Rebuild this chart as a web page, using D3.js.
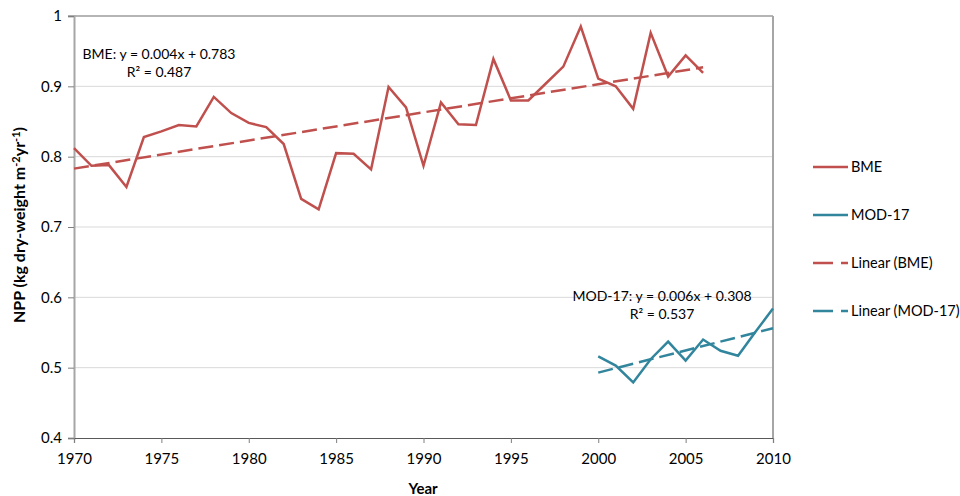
<!DOCTYPE html>
<html>
<head>
<meta charset="utf-8">
<script src="https://cdn.jsdelivr.net/npm/d3@7"></script>
<style>
  html, body { margin: 0; padding: 0; background: #fff; }
  svg { display: block; font-family: Lato, "Open Sans", sans-serif; }
</style>
</head>
<body>
<svg id="chart" width="960" height="496"></svg>
<script>
// ---- Data ----
const bmeYears = d3.range(1970, 2007);
const bmeValues = [0.812, 0.787, 0.788, 0.757, 0.828, 0.836, 0.845, 0.843, 0.885, 0.862,
  0.848, 0.842, 0.818, 0.740, 0.725, 0.805, 0.804, 0.782, 0.899, 0.870,
  0.787, 0.877, 0.846, 0.845, 0.939, 0.880, 0.880, 0.904, 0.928, 0.985,
  0.911, 0.900, 0.868, 0.976, 0.914, 0.944, 0.919];
const modYears = d3.range(2000, 2011);
const modValues = [0.516, 0.503, 0.479, 0.512, 0.537, 0.510, 0.540, 0.524, 0.517, 0.551, 0.584];
// trend line endpoints
const bmeTrendYears = [1970, 2006];
const bmeTrendValues = [0.783, 0.927];
const modTrendYears = [2000, 2010];
const modTrendValues = [0.493, 0.556];

const xTicks = [1970, 1975, 1980, 1985, 1990, 1995, 2000, 2005, 2010];
const yTicks = [0.4, 0.5, 0.6, 0.7, 0.8, 0.9, 1];
const legendLabels = ["BME", "MOD-17", "Linear (BME)", "Linear (MOD-17)"];
const bmeEquation = ["BME: y = 0.004x + 0.783", "R² = 0.487"];
const modEquation = ["MOD-17: y = 0.006x + 0.308", "R² = 0.537"];

const RED = "#C0504D", TEAL = "#31859C";
const TXT = "#000";

const svg = d3.select("#chart");
const L = 74, R = 773, T = 16, B = 438;
const x = d3.scaleLinear().domain([1970, 2010]).range([L, R]);
const y = d3.scaleLinear().domain([0.4, 1]).range([B, T]);

// gridlines
svg.append("g").selectAll("line").data(yTicks.filter(v => v > 0.4 && v < 1)).join("line")
  .attr("x1", L).attr("x2", R).attr("y1", d => y(d)).attr("y2", d => y(d))
  .attr("stroke", "#D9D9D9").attr("stroke-width", 1);

// frame: top & right
svg.append("line").attr("x1", L - 6).attr("x2", R).attr("y1", y(1)).attr("y2", y(1))
  .attr("stroke", "#6d6d6d").attr("stroke-width", 1.2);
svg.append("line").attr("x1", R).attr("x2", R).attr("y1", T).attr("y2", B)
  .attr("stroke", "#A6A6A6").attr("stroke-width", 2);

// y axis
const yAxis = svg.append("g").attr("transform", `translate(${L},0)`)
  .call(d3.axisLeft(y).tickValues(yTicks).tickFormat(d => d3.format("")(+d.toFixed(1))).tickSize(6).tickPadding(6));
yAxis.select(".domain").attr("stroke", "#A6A6A6").attr("stroke-width", 2);
yAxis.selectAll(".tick line").attr("stroke", "#7f7f7f");
yAxis.selectAll("text").attr("font-size", 15).attr("fill", TXT).attr("font-family", "Lato");

// x axis
const xAxis = svg.append("g").attr("transform", `translate(0,${B})`)
  .call(d3.axisBottom(x).tickValues(xTicks).tickFormat(d3.format("d")).tickSize(5).tickPadding(10));
xAxis.select(".domain").attr("stroke", "#595959").attr("stroke-width", 1.2);
xAxis.selectAll(".tick line").attr("stroke", "#7f7f7f");
xAxis.selectAll("text").attr("font-size", 15).attr("fill", TXT).attr("font-family", "Lato");

// axis titles
svg.append("text").attr("x", 423).attr("y", 494).attr("text-anchor", "middle")
  .attr("font-weight", "bold").attr("font-size", 15).attr("fill", TXT).text("Year");
const yt = svg.append("text").attr("transform", "translate(25,225) rotate(-90)")
  .attr("text-anchor", "middle").attr("font-weight", "bold").attr("font-size", 16).attr("fill", TXT);
yt.append("tspan").text("NPP (kg dry-weight m");
yt.append("tspan").attr("dy", -5).attr("font-size", 11).text("-2");
yt.append("tspan").attr("dy", 5).text("yr");
yt.append("tspan").attr("dy", -5).attr("font-size", 11).text("-1");
yt.append("tspan").attr("dy", 5).text(")");

const line = d3.line().x(d => x(d[0])).y(d => y(d[1]));

// trend lines
svg.append("path").datum(d3.zip(bmeTrendYears, bmeTrendValues)).attr("d", line)
  .attr("fill", "none").attr("stroke", RED).attr("stroke-width", 2.5).attr("stroke-dasharray", "15,6");
svg.append("path").datum(d3.zip(modTrendYears, modTrendValues)).attr("d", line)
  .attr("fill", "none").attr("stroke", TEAL).attr("stroke-width", 2.5).attr("stroke-dasharray", "15,6");

// series
svg.append("path").datum(d3.zip(bmeYears, bmeValues)).attr("d", line)
  .attr("fill", "none").attr("stroke", RED).attr("stroke-width", 2.5).attr("stroke-linejoin", "miter");
svg.append("path").datum(d3.zip(modYears, modValues)).attr("d", line)
  .attr("fill", "none").attr("stroke", TEAL).attr("stroke-width", 2.5).attr("stroke-linejoin", "miter");

// annotations
const ann = (cx, cy, lines) => {
  lines.forEach((t, i) => {
    svg.append("text").attr("x", cx).attr("y", cy + i * 18).attr("text-anchor", "middle")
      .attr("font-size", 14).attr("fill", TXT).text(t);
  });
};
ann(159, 59, bmeEquation);
ann(662, 301, modEquation);

// legend
const legY = [167, 215, 263, 311];
const legColors = [RED, TEAL, RED, TEAL];
const legDash = [null, null, "20,8", "20,8"];
legendLabels.forEach((lab, i) => {
  svg.append("line").attr("x1", 813).attr("x2", 848).attr("y1", legY[i]).attr("y2", legY[i])
    .attr("stroke", legColors[i]).attr("stroke-width", 2.5).attr("stroke-dasharray", legDash[i]);
  svg.append("text").attr("x", 851).attr("y", legY[i] + 5).attr("font-size", 14.5).attr("fill", TXT).text(lab);
});
</script>
</body>
</html>
